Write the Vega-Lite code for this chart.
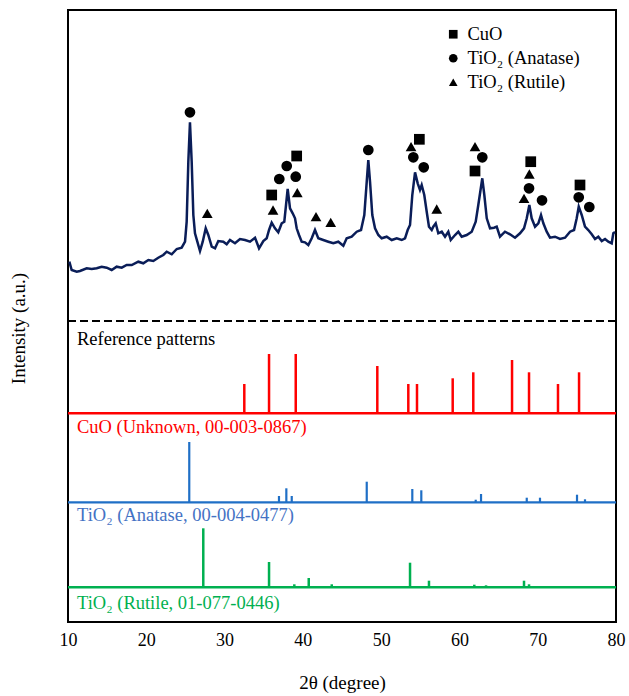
{
  "$schema": "https://vega.github.io/schema/vega-lite/v6.json",
  "width": 548,
  "height": 612,
  "autosize": {"type": "none"},
  "padding": {"left": 68, "top": 10, "right": 13, "bottom": 74},
  "config": {
    "view": {"stroke": "black", "strokeWidth": 2},
    "font": "Liberation Serif",
    "axis": {"grid": false, "domain": false, "ticks": false, "labelFont": "Liberation Serif", "titleFont": "Liberation Serif", "titleFontWeight": "normal", "labelColor": "black", "titleColor": "black"}
  },
  "datasets": {
    "pattern": [
      {"two_theta": 10.17, "intensity": 360.3}, {"two_theta": 10.47, "intensity": 352}, {"two_theta": 11.11, "intensity": 350.3},
      {"two_theta": 11.53, "intensity": 351}, {"two_theta": 12.39, "intensity": 353.7}, {"two_theta": 13.03, "intensity": 353},
      {"two_theta": 13.67, "intensity": 353.7}, {"two_theta": 14.30, "intensity": 355.3}, {"two_theta": 14.94, "intensity": 354.3},
      {"two_theta": 15.58, "intensity": 352}, {"two_theta": 16.22, "intensity": 355.3}, {"two_theta": 16.86, "intensity": 354.3},
      {"two_theta": 17.50, "intensity": 357}, {"two_theta": 18.14, "intensity": 357}, {"two_theta": 18.98, "intensity": 360.3},
      {"two_theta": 19.62, "intensity": 358.7}, {"two_theta": 20.26, "intensity": 362}, {"two_theta": 20.90, "intensity": 361},
      {"two_theta": 21.53, "intensity": 364.3}, {"two_theta": 22.17, "intensity": 367}, {"two_theta": 22.61, "intensity": 370.3},
      {"two_theta": 23.25, "intensity": 367.7}, {"two_theta": 23.89, "intensity": 373}, {"two_theta": 24.52, "intensity": 374.3},
      {"two_theta": 24.95, "intensity": 380.3}, {"two_theta": 25.16, "intensity": 400.3}, {"two_theta": 25.37, "intensity": 460.3},
      {"two_theta": 25.58, "intensity": 499.7}, {"two_theta": 25.80, "intensity": 460.3}, {"two_theta": 26.01, "intensity": 407},
      {"two_theta": 26.22, "intensity": 388.7}, {"two_theta": 26.52, "intensity": 380.3}, {"two_theta": 26.86, "intensity": 371},
      {"two_theta": 27.21, "intensity": 380.3}, {"two_theta": 27.59, "intensity": 393.7}, {"two_theta": 27.92, "intensity": 387},
      {"two_theta": 28.36, "intensity": 375.3}, {"two_theta": 28.78, "intensity": 373.7}, {"two_theta": 29.20, "intensity": 381},
      {"two_theta": 29.84, "intensity": 380.3}, {"two_theta": 30.27, "intensity": 377.7}, {"two_theta": 30.69, "intensity": 382},
      {"two_theta": 31.33, "intensity": 378.7}, {"two_theta": 31.97, "intensity": 383}, {"two_theta": 32.61, "intensity": 382},
      {"two_theta": 33.25, "intensity": 380.3}, {"two_theta": 33.89, "intensity": 384.3}, {"two_theta": 34.40, "intensity": 373.7},
      {"two_theta": 34.95, "intensity": 381}, {"two_theta": 35.38, "intensity": 383.7}, {"two_theta": 35.68, "intensity": 392},
      {"two_theta": 36.02, "intensity": 399.3}, {"two_theta": 36.44, "intensity": 393.7}, {"two_theta": 36.86, "intensity": 389.7},
      {"two_theta": 37.30, "intensity": 398.7}, {"two_theta": 37.63, "intensity": 400.3}, {"two_theta": 37.85, "intensity": 417},
      {"two_theta": 38.06, "intensity": 433}, {"two_theta": 38.36, "intensity": 413.7}, {"two_theta": 38.70, "intensity": 408.7},
      {"two_theta": 39.00, "intensity": 403.7}, {"two_theta": 39.21, "intensity": 393.7}, {"two_theta": 39.51, "intensity": 387},
      {"two_theta": 39.85, "intensity": 380.3}, {"two_theta": 40.27, "intensity": 379.7}, {"two_theta": 40.70, "intensity": 377},
      {"two_theta": 41.13, "intensity": 383.7}, {"two_theta": 41.55, "intensity": 392}, {"two_theta": 41.97, "intensity": 383.7},
      {"two_theta": 42.61, "intensity": 382}, {"two_theta": 43.25, "intensity": 380.3}, {"two_theta": 43.89, "intensity": 378.7},
      {"two_theta": 44.53, "intensity": 380.3}, {"two_theta": 45.17, "intensity": 376.3}, {"two_theta": 45.60, "intensity": 383.7},
      {"two_theta": 46.24, "intensity": 385.3}, {"two_theta": 46.88, "intensity": 390.3}, {"two_theta": 47.43, "intensity": 392},
      {"two_theta": 47.85, "intensity": 407}, {"two_theta": 48.16, "intensity": 440.3}, {"two_theta": 48.36, "intensity": 462},
      {"two_theta": 48.58, "intensity": 440.3}, {"two_theta": 48.87, "intensity": 407}, {"two_theta": 49.22, "intensity": 393.7},
      {"two_theta": 49.64, "intensity": 387}, {"two_theta": 50.07, "intensity": 383.7}, {"two_theta": 50.71, "intensity": 385.3},
      {"two_theta": 51.35, "intensity": 382}, {"two_theta": 51.99, "intensity": 383.7}, {"two_theta": 52.63, "intensity": 382},
      {"two_theta": 53.05, "intensity": 383.7}, {"two_theta": 53.39, "intensity": 392}, {"two_theta": 53.69, "intensity": 397},
      {"two_theta": 53.98, "intensity": 427}, {"two_theta": 54.33, "intensity": 449.7}, {"two_theta": 54.67, "intensity": 438.7},
      {"two_theta": 54.96, "intensity": 432}, {"two_theta": 55.18, "intensity": 437}, {"two_theta": 55.51, "intensity": 427},
      {"two_theta": 55.82, "intensity": 410.3}, {"two_theta": 56.11, "intensity": 395.3}, {"two_theta": 56.46, "intensity": 392},
      {"two_theta": 56.66, "intensity": 395.3}, {"two_theta": 56.97, "intensity": 398.7}, {"two_theta": 57.30, "intensity": 388.7},
      {"two_theta": 57.74, "intensity": 390.3}, {"two_theta": 58.16, "intensity": 385.3}, {"two_theta": 58.58, "intensity": 390.3},
      {"two_theta": 58.89, "intensity": 382}, {"two_theta": 59.44, "intensity": 387}, {"two_theta": 59.86, "intensity": 390.3},
      {"two_theta": 60.29, "intensity": 385.3}, {"two_theta": 60.93, "intensity": 387}, {"two_theta": 61.57, "intensity": 390.3},
      {"two_theta": 62.08, "intensity": 400.3}, {"two_theta": 62.41, "intensity": 417}, {"two_theta": 62.92, "intensity": 443.7},
      {"two_theta": 63.18, "intensity": 427}, {"two_theta": 63.49, "intensity": 403.7}, {"two_theta": 63.91, "intensity": 393.7},
      {"two_theta": 64.42, "intensity": 394.3}, {"two_theta": 64.76, "intensity": 395.3}, {"two_theta": 65.18, "intensity": 385.3},
      {"two_theta": 65.82, "intensity": 390.3}, {"two_theta": 66.46, "intensity": 387.7}, {"two_theta": 67.10, "intensity": 384.3},
      {"two_theta": 67.74, "intensity": 388.7}, {"two_theta": 68.25, "intensity": 393.7}, {"two_theta": 68.60, "intensity": 403.7},
      {"two_theta": 68.93, "intensity": 417}, {"two_theta": 69.23, "intensity": 403.7}, {"two_theta": 69.66, "intensity": 395.3},
      {"two_theta": 70.08, "intensity": 398.7}, {"two_theta": 70.42, "intensity": 407}, {"two_theta": 70.72, "intensity": 398.7},
      {"two_theta": 71.15, "intensity": 390.3}, {"two_theta": 71.57, "intensity": 384.3}, {"two_theta": 72.21, "intensity": 385.3},
      {"two_theta": 72.85, "intensity": 383}, {"two_theta": 73.49, "intensity": 384.3}, {"two_theta": 74.13, "intensity": 390.3},
      {"two_theta": 74.64, "intensity": 392}, {"two_theta": 74.98, "intensity": 403.7}, {"two_theta": 75.24, "intensity": 415.3},
      {"two_theta": 75.62, "intensity": 407}, {"two_theta": 76.04, "intensity": 395.3}, {"two_theta": 76.46, "intensity": 392},
      {"two_theta": 76.90, "intensity": 387.7}, {"two_theta": 77.32, "intensity": 383}, {"two_theta": 77.74, "intensity": 385.3},
      {"two_theta": 78.18, "intensity": 381}, {"two_theta": 78.60, "intensity": 383}, {"two_theta": 79.02, "intensity": 380.3},
      {"two_theta": 79.45, "intensity": 378.7}, {"two_theta": 79.66, "intensity": 388.7}, {"two_theta": 79.88, "intensity": 390}
    ],
    "cuo_ref": [
      {"two_theta": 32.52, "intensity": 238}, {"two_theta": 35.68, "intensity": 268}, {"two_theta": 39.09, "intensity": 268},
      {"two_theta": 49.51, "intensity": 256}, {"two_theta": 53.47, "intensity": 238}, {"two_theta": 54.58, "intensity": 238},
      {"two_theta": 59.14, "intensity": 243.7}, {"two_theta": 61.77, "intensity": 249.7}, {"two_theta": 66.72, "intensity": 262},
      {"two_theta": 68.89, "intensity": 249.7}, {"two_theta": 72.59, "intensity": 238}, {"two_theta": 75.28, "intensity": 249.7}
    ],
    "anatase_ref": [
      {"two_theta": 25.49, "intensity": 180}, {"two_theta": 36.95, "intensity": 126}, {"two_theta": 37.89, "intensity": 133.7},
      {"two_theta": 38.58, "intensity": 126}, {"two_theta": 48.16, "intensity": 140.3}, {"two_theta": 53.98, "intensity": 133},
      {"two_theta": 55.13, "intensity": 131.7}, {"two_theta": 62.08, "intensity": 122.3}, {"two_theta": 62.76, "intensity": 128},
      {"two_theta": 68.60, "intensity": 124.3}, {"two_theta": 70.29, "intensity": 124.3}, {"two_theta": 75.02, "intensity": 127.3},
      {"two_theta": 76.04, "intensity": 122.7}
    ],
    "rutile_ref": [
      {"two_theta": 27.28, "intensity": 93.7}, {"two_theta": 35.68, "intensity": 60}, {"two_theta": 38.91, "intensity": 37.7},
      {"two_theta": 40.75, "intensity": 44}, {"two_theta": 43.69, "intensity": 37.7}, {"two_theta": 53.69, "intensity": 59.3},
      {"two_theta": 56.11, "intensity": 41.3}, {"two_theta": 61.90, "intensity": 37.3}, {"two_theta": 63.40, "intensity": 36.7},
      {"two_theta": 68.25, "intensity": 41.3}, {"two_theta": 68.89, "intensity": 37.7}
    ],
    "markers": [
      {"phase": "TiO₂ (Anatase)", "two_theta": 25.58, "intensity": 509.7},
      {"phase": "TiO₂ (Rutile)", "two_theta": 27.79, "intensity": 408.7},
      {"phase": "CuO", "two_theta": 36.02, "intensity": 427},
      {"phase": "TiO₂ (Rutile)", "two_theta": 36.19, "intensity": 412},
      {"phase": "TiO₂ (Anatase)", "two_theta": 36.99, "intensity": 443},
      {"phase": "TiO₂ (Anatase)", "two_theta": 37.94, "intensity": 456},
      {"phase": "CuO", "two_theta": 39.21, "intensity": 466},
      {"phase": "TiO₂ (Anatase)", "two_theta": 39.09, "intensity": 445.3},
      {"phase": "TiO₂ (Rutile)", "two_theta": 39.29, "intensity": 429.3},
      {"phase": "TiO₂ (Rutile)", "two_theta": 41.68, "intensity": 405.3},
      {"phase": "TiO₂ (Rutile)", "two_theta": 43.56, "intensity": 399.7},
      {"phase": "TiO₂ (Anatase)", "two_theta": 48.36, "intensity": 472},
      {"phase": "TiO₂ (Rutile)", "two_theta": 53.82, "intensity": 475.3},
      {"phase": "CuO", "two_theta": 54.88, "intensity": 482.7},
      {"phase": "TiO₂ (Anatase)", "two_theta": 54.11, "intensity": 464.7},
      {"phase": "TiO₂ (Anatase)", "two_theta": 55.44, "intensity": 454.7},
      {"phase": "TiO₂ (Rutile)", "two_theta": 57.10, "intensity": 413},
      {"phase": "TiO₂ (Rutile)", "two_theta": 61.99, "intensity": 475.3},
      {"phase": "TiO₂ (Anatase)", "two_theta": 62.92, "intensity": 464.7},
      {"phase": "CuO", "two_theta": 61.99, "intensity": 451},
      {"phase": "CuO", "two_theta": 69.11, "intensity": 460.3},
      {"phase": "TiO₂ (Rutile)", "two_theta": 68.93, "intensity": 448},
      {"phase": "TiO₂ (Anatase)", "two_theta": 68.89, "intensity": 433.7},
      {"phase": "TiO₂ (Rutile)", "two_theta": 68.25, "intensity": 423.7},
      {"phase": "TiO₂ (Anatase)", "two_theta": 70.55, "intensity": 421.7},
      {"phase": "CuO", "two_theta": 75.40, "intensity": 437},
      {"phase": "TiO₂ (Anatase)", "two_theta": 75.24, "intensity": 424.7},
      {"phase": "TiO₂ (Anatase)", "two_theta": 76.59, "intensity": 415}
    ]
  },
  "layer": [
    {
      "data": {"name": "pattern"},
      "mark": {"type": "line", "color": "#0a1d58", "strokeWidth": 2.5},
      "encoding": {
        "x": {"field": "two_theta", "type": "quantitative", "scale": {"domain": [10, 80], "nice": false, "zero": false},
              "axis": {"values": [10, 20, 30, 40, 50, 60, 70, 80], "labelFontSize": 18, "labelPadding": 9, "labelFlush": false, "labelDx": 2, "title": "2θ (degree)", "titleFontSize": 19, "titlePadding": 24}},
        "y": {"field": "intensity", "type": "quantitative", "scale": {"domain": [0, 612], "nice": false, "zero": false},
              "axis": {"labels": false, "title": "Intensity (a.u.)", "titleFontSize": 19, "titlePadding": 40, "titleY": 318}}
      }
    },
    {
      "data": {"values": [{}]},
      "mark": {"type": "rule", "color": "black", "strokeWidth": 2, "strokeDash": [8, 4]},
      "encoding": {"y": {"datum": 301}}
    },
    {
      "data": {"values": [{}]},
      "mark": {"type": "rule", "color": "#ff0000", "strokeWidth": 2.5},
      "encoding": {"y": {"datum": 208.7}}
    },
    {
      "data": {"values": [{}]},
      "mark": {"type": "rule", "color": "#1f6fc6", "strokeWidth": 2.2},
      "encoding": {"y": {"datum": 119.7}}
    },
    {
      "data": {"values": [{}]},
      "mark": {"type": "rule", "color": "#00b050", "strokeWidth": 2.5},
      "encoding": {"y": {"datum": 34.7}}
    },
    {
      "data": {"name": "cuo_ref"},
      "mark": {"type": "rule", "color": "#ff0000", "strokeWidth": 2.5},
      "encoding": {
        "x": {"field": "two_theta", "type": "quantitative"},
        "y": {"field": "intensity", "type": "quantitative"},
        "y2": {"datum": 208.7}
      }
    },
    {
      "data": {"name": "anatase_ref"},
      "mark": {"type": "rule", "color": "#1f6fc6", "strokeWidth": 2.2},
      "encoding": {
        "x": {"field": "two_theta", "type": "quantitative"},
        "y": {"field": "intensity", "type": "quantitative"},
        "y2": {"datum": 119.7}
      }
    },
    {
      "data": {"name": "rutile_ref"},
      "mark": {"type": "rule", "color": "#00b050", "strokeWidth": 2.5},
      "encoding": {
        "x": {"field": "two_theta", "type": "quantitative"},
        "y": {"field": "intensity", "type": "quantitative"},
        "y2": {"datum": 34.7}
      }
    },
    {
      "data": {"name": "markers"},
      "mark": {"type": "point", "filled": true, "color": "black", "opacity": 1, "size": 115},
      "encoding": {
        "x": {"field": "two_theta", "type": "quantitative"},
        "y": {"field": "intensity", "type": "quantitative"},
        "shape": {
          "field": "phase", "type": "nominal",
          "scale": {"domain": ["CuO", "TiO₂ (Anatase)", "TiO₂ (Rutile)"], "range": ["square", "circle", "triangle-up"]},
          "legend": {"orient": "none", "legendX": 376, "legendY": 15, "title": null, "labelFont": "Liberation Serif", "labelFontSize": 18.5, "labelColor": "black", "symbolFillColor": "black", "symbolStrokeColor": "black", "symbolSize": 75, "symbolOpacity": 1, "rowPadding": 5, "labelOffset": 5}
        }
      }
    },
    {
      "data": {"values": [{}]},
      "mark": {"type": "text", "text": "Reference patterns", "align": "left", "baseline": "alphabetic", "fontSize": 18.5, "color": "black", "font": "Liberation Serif"},
      "encoding": {"x": {"datum": 11.15}, "y": {"datum": 277}}
    },
    {
      "data": {"values": [{}]},
      "mark": {"type": "text", "text": "CuO (Unknown, 00-003-0867)", "align": "left", "baseline": "alphabetic", "fontSize": 18.5, "color": "#ff0000", "font": "Liberation Serif"},
      "encoding": {"x": {"datum": 11.15}, "y": {"datum": 189.5}}
    },
    {
      "data": {"values": [{}]},
      "mark": {"type": "text", "text": "TiO₂ (Anatase, 00-004-0477)", "align": "left", "baseline": "alphabetic", "fontSize": 18.5, "color": "#4472c4", "font": "Liberation Serif"},
      "encoding": {"x": {"datum": 11.15}, "y": {"datum": 101}}
    },
    {
      "data": {"values": [{}]},
      "mark": {"type": "text", "text": "TiO₂ (Rutile, 01-077-0446)", "align": "left", "baseline": "alphabetic", "fontSize": 18.5, "color": "#00b050", "font": "Liberation Serif"},
      "encoding": {"x": {"datum": 11.15}, "y": {"datum": 13}}
    }
  ]
}
